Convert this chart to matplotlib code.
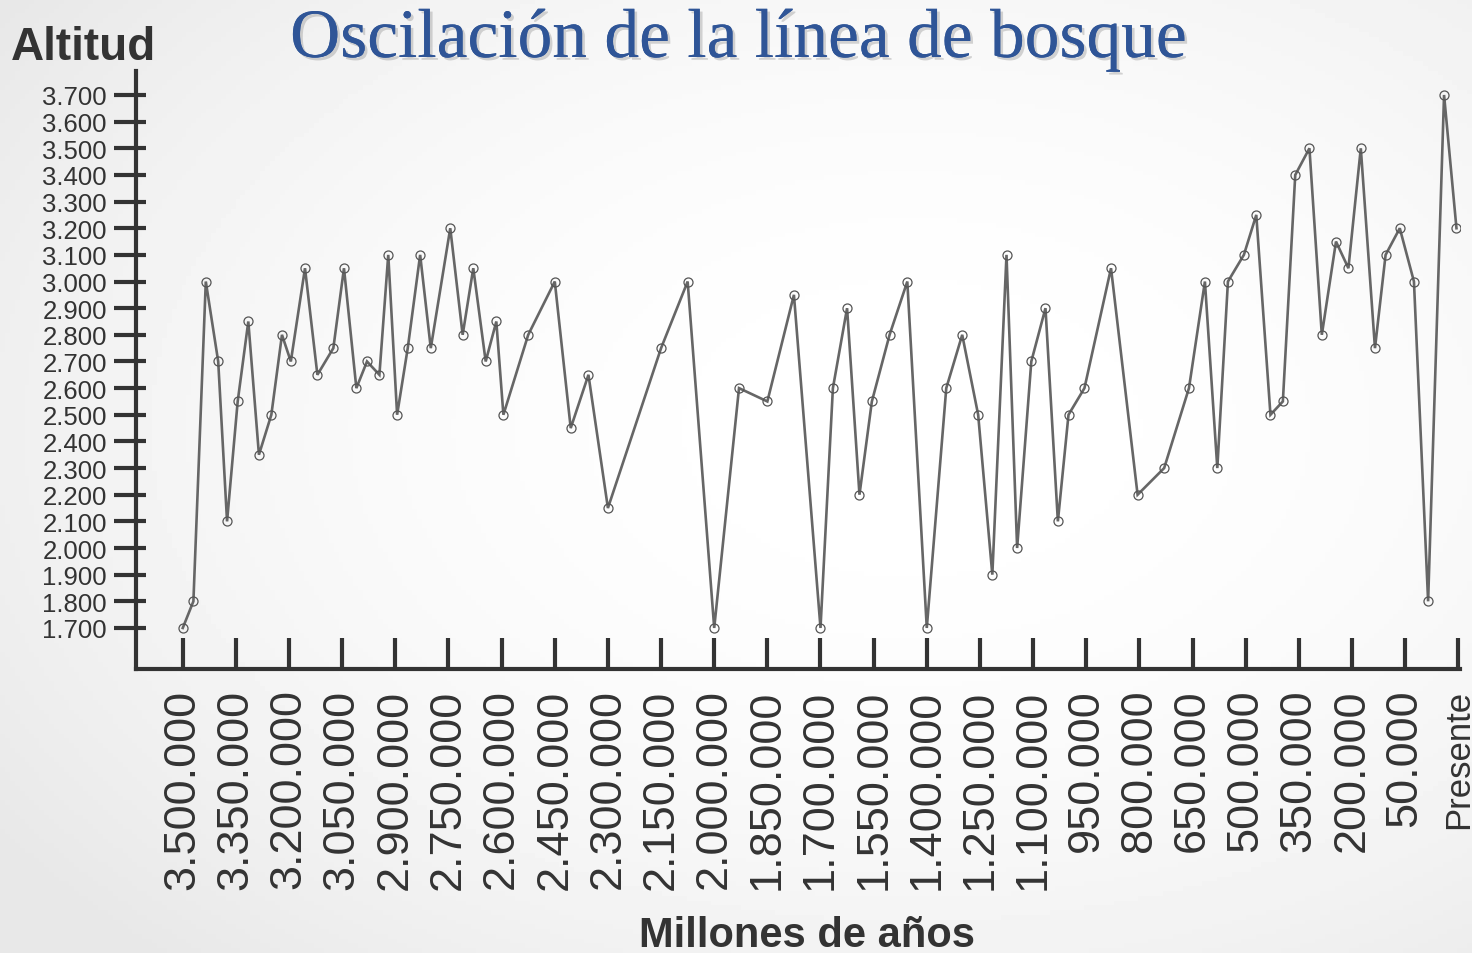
import numpy as np
import matplotlib
matplotlib.use("Agg")
import matplotlib.pyplot as plt
import matplotlib.patheffects as pe
from matplotlib.ticker import FuncFormatter

plt.rcParams['font.family'] = ['Liberation Sans', 'DejaVu Sans']

# años antes del presente (posición) y altitud de la línea de bosque (m)
years = [3500000, 3470000, 3435000, 3400000, 3375000, 3345000, 3315000, 3285000, 3250000, 3220000,
         3195000, 3155000, 3120000, 3075000, 3045000, 3010000, 2980000, 2945000, 2920000, 2895000,
         2865000, 2830000, 2800000, 2745000, 2710000, 2680000, 2645000, 2615000, 2595000, 2525000,
         2450000, 2405000, 2355000, 2300000, 2150000, 2075000, 2000000, 1930000, 1850000, 1775000,
         1700000, 1665000, 1625000, 1590000, 1555000, 1505000, 1455000, 1400000, 1345000, 1300000,
         1255000, 1215000, 1175000, 1145000, 1105000, 1065000, 1030000, 1000000, 955000, 880000,
         805000, 730000, 660000, 615000, 580000, 550000, 505000, 470000, 430000, 395000,
         360000, 320000, 285000, 245000, 210000, 175000, 135000, 105000, 65000, 25000,
         -15000, -60000, -95000]
altitud = [1700, 1800, 3000, 2700, 2100, 2550, 2850, 2350, 2500, 2800,
           2700, 3050, 2650, 2750, 3050, 2600, 2700, 2650, 3100, 2500,
           2750, 3100, 2750, 3200, 2800, 3050, 2700, 2850, 2500, 2800,
           3000, 2450, 2650, 2150, 2750, 3000, 1700, 2600, 2550, 2950,
           1700, 2600, 2900, 2200, 2550, 2800, 3000, 1700, 2600, 2800,
           2500, 1900, 3100, 2000, 2700, 2900, 2100, 2500, 2600, 3050,
           2200, 2300, 2600, 3000, 2300, 3000, 3100, 3250, 2500, 2550,
           3400, 3500, 2800, 3150, 3050, 3500, 2750, 3100, 3200, 3000,
           1800, 3700, 3200]

x_ticks = [3500000, 3350000, 3200000, 3050000, 2900000, 2750000, 2600000, 2450000,
           2300000, 2150000, 2000000, 1850000, 1700000, 1550000, 1400000, 1250000,
           1100000, 950000, 800000, 650000, 500000, 350000, 200000, 50000, -100000]
x_labels = ['3.500.000', '3.350.000', '3.200.000', '3.050.000', '2.900.000', '2.750.000',
            '2.600.000', '2.450.000', '2.300.000', '2.150.000', '2.000.000', '1.850.000',
            '1.700.000', '1.550.000', '1.400.000', '1.250.000', '1.100.000', '950.000',
            '800.000', '650.000', '500.000', '350.000', '200.000', '50.000', 'Presente']
y_ticks = list(range(1700, 3701, 100))

fig = plt.figure(figsize=(14.72, 9.54), dpi=100)

# fondo gris claro con degradado
bg = fig.add_axes([0, 0, 1, 1], zorder=-10)
gx, gy = np.meshgrid(np.linspace(0, 1, 300), np.linspace(0, 1, 200))
r = np.sqrt(((gx - 0.62) / 0.75) ** 2 + ((gy - 0.45) / 0.75) ** 2)
bg.imshow(1 - 0.09 * np.clip(r, 0, 1) ** 2, cmap='gray', vmin=0, vmax=1,
          aspect='auto', extent=[0, 1, 0, 1])
bg.axis('off')

ax = fig.add_axes([136 / 1472, 1 - 670 / 954, (1460 - 136) / 1472, (670 - 72) / 954])
ax.patch.set_alpha(0)

ax.plot(years, altitud, color='#666666', lw=1.9, marker='o', ms=6.5,
        mfc='none', mec='#555555', mew=0.9, solid_joinstyle='miter')

ax.set_xlim(3632000, -105000)
ax.set_ylim(1546, 3790)

for s in ['top', 'right']:
    ax.spines[s].set_visible(False)
for s in ['left', 'bottom']:
    ax.spines[s].set_linewidth(3)
    ax.spines[s].set_color('#333333')

ax.set_xticks(x_ticks)
ax.set_xticklabels(x_labels, rotation=90, fontsize=32.5, color='#333333')
ax.get_xticklabels()[-1].set_fontsize(25)
ax.tick_params(axis='x', direction='in', length=22, width=3, color='#333333', pad=14)

ax.set_yticks(y_ticks)
ax.yaxis.set_major_formatter(FuncFormatter(lambda v, p: f"{int(v):,}".replace(',', '.')))
ax.set_yticks(y_ticks, minor=True)
ax.yaxis.remove_overlapping_locs = False
ax.tick_params(axis='y', which='major', direction='out', length=16, width=3,
               color='#333333', pad=5, labelsize=18.5, labelcolor='#333333')
ax.tick_params(axis='y', which='minor', direction='in', length=7, width=3, color='#333333')

fig.text(83 / 1472, 1 - 60 / 954, 'Altitud', ha='center', va='baseline',
         fontsize=33, fontweight='bold', color='#333333')
fig.text(807 / 1472, 1 - 947 / 954, 'Millones de años', ha='center', va='baseline',
         fontsize=30, fontweight='bold', color='#333333')
fig.text(739 / 1472, 1 - 58 / 954, 'Oscilación de la línea de bosque', ha='center',
         va='baseline', fontsize=50, color='#2F5597', family='Liberation Serif',
         path_effects=[pe.withSimplePatchShadow(offset=(2, -2), shadow_rgbFace='#888888', alpha=0.35),
                       pe.Normal()])

fig.savefig('out.png', dpi=100)
